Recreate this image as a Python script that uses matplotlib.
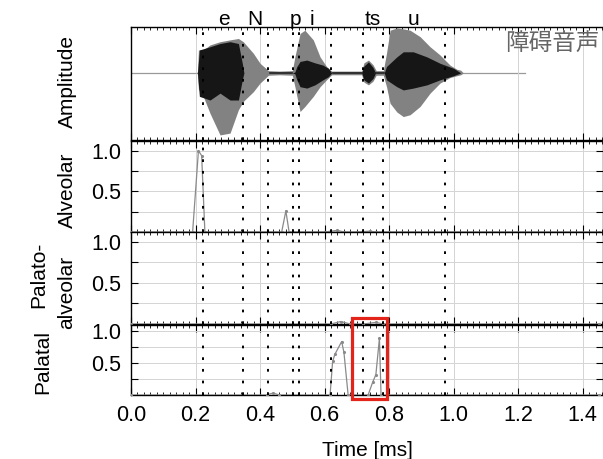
import numpy as np
import matplotlib
matplotlib.use("Agg")
import matplotlib.pyplot as plt
from matplotlib.ticker import MultipleLocator
from matplotlib.patches import Rectangle

plt.rcParams['font.family'] = ['Liberation Sans', 'Noto Sans CJK JP', 'DejaVu Sans']

# phoneme boundaries (dashed) and labels
boundaries = [0.224, 0.346, 0.426, 0.503, 0.521, 0.619, 0.720, 0.782, 0.973]
phonemes = ["e", "N", "p", "i", "ts", "u"]
phoneme_t = [0.287, 0.384, 0.511, 0.561, 0.750, 0.877]

# waveform envelope (outer grey part)
wave_t = [0.0, 0.200, 0.206, 0.209, 0.224, 0.245, 0.276, 0.307, 0.333, 0.348, 0.379,
          0.400, 0.426, 0.460, 0.500, 0.508, 0.524, 0.539, 0.565, 0.586, 0.606, 0.622,
          0.660, 0.715, 0.722, 0.736, 0.750, 0.760, 0.782, 0.792, 0.803, 0.824, 0.844,
          0.865, 0.896, 0.927, 0.958, 0.989, 1.010, 1.022, 1.030]
wave_hi = [0.0, 0.0, 0.02, 0.50, 0.50, 0.61, 0.68, 0.72, 0.75, 0.68, 0.43,
           0.21, 0.05, 0.04, 0.05, 0.35, 0.86, 0.93, 0.72, 0.35, 0.14, 0.04,
           0.04, 0.04, 0.22, 0.28, 0.18, 0.05, 0.05, 0.43, 0.93, 0.98, 0.96,
           0.93, 0.79, 0.57, 0.39, 0.17, 0.08, 0.06, 0.0]
wave_lo = [0.0, 0.0, -0.02, -0.35, -0.51, -0.88, -1.35, -1.31, -0.80, -0.62, -0.41,
           -0.22, -0.05, -0.04, -0.05, -0.30, -0.84, -0.73, -0.51, -0.30, -0.15, -0.04,
           -0.04, -0.04, -0.20, -0.26, -0.18, -0.05, -0.05, -0.30, -0.66, -0.85, -0.95,
           -0.91, -0.73, -0.44, -0.22, -0.10, -0.06, -0.04, 0.0]

# waveform envelope (inner dark part)
dark_t = [0.0, 0.206, 0.212, 0.245, 0.276, 0.307, 0.333, 0.345, 0.350, 0.500, 0.508,
          0.514, 0.524, 0.545, 0.570, 0.595, 0.612, 0.622, 0.715, 0.722, 0.736,
          0.750, 0.758, 0.785, 0.792, 0.824, 0.844, 0.875, 0.917, 0.958, 1.000, 1.022]
dark_hi = [0.0, 0.0, 0.50, 0.57, 0.64, 0.68, 0.64, 0.21, 0.0, 0.0, 0.02,
           0.14, 0.25, 0.28, 0.22, 0.17, 0.10, 0.0, 0.0, 0.15, 0.24,
           0.12, 0.0, 0.0, 0.14, 0.35, 0.46, 0.46, 0.35, 0.21, 0.10, 0.0]
dark_lo = [0.0, 0.0, -0.51, -0.59, -0.44, -0.59, -0.59, -0.15, 0.0, 0.0, -0.02,
           -0.15, -0.30, -0.33, -0.26, -0.15, -0.08, 0.0, 0.0, -0.15, -0.22,
           -0.12, 0.0, 0.0, -0.15, -0.30, -0.37, -0.33, -0.26, -0.15, -0.06, 0.0]

# classifier outputs
alv_t = [0.0, 0.191, 0.209, 0.219, 0.229, 0.467, 0.480, 0.490, 0.600, 0.640, 0.660, 0.700, 0.740, 0.760, 0.800, 1.45]
alv_v = [0.0, 0.0, 1.0, 0.94, 0.0, 0.0, 0.26, 0.0, 0.0, 0.02, 0.0, 0.0, 0.01, 0.0, 0.0, 0.0]
pal_alv_t = [0.0, 0.62, 0.65, 0.68, 0.72, 0.76, 0.78, 1.45]
pal_alv_v = [0.0, 0.0, 0.03, 0.0, 0.0, 0.02, 0.0, 0.0]
pal_t = [0.0, 0.420, 0.440, 0.460, 0.617, 0.625, 0.632, 0.653, 0.660, 0.673, 0.735, 0.749, 0.759, 0.770, 0.775, 1.45]
pal_v = [0.0, 0.0, 0.03, 0.0, 0.0, 0.53, 0.64, 0.84, 0.67, 0.0, 0.0, 0.20, 0.32, 0.89, 0.0, 0.0]

highlight = (0.685, 0.795)
xmax = 1.463

fig = plt.figure(figsize=(6.03, 4.59), dpi=100)
H = 459.0
W = 603.0


def panel(top_px, bot_px):
    return fig.add_axes([131 / W, 1 - bot_px / H, 1 - 131 / W, (bot_px - top_px) / H])


ax0 = panel(27, 140)
ax1 = panel(141, 232)
ax2 = panel(232, 324)
ax3 = panel(325, 395)
axes = [ax0, ax1, ax2, ax3]

for ax in axes:
    ax.set_xlim(0, xmax)
    ax.xaxis.set_major_locator(MultipleLocator(0.2))
    ax.xaxis.set_minor_locator(MultipleLocator(0.02))
    ax.tick_params(which='both', direction='in', top=True, right=True, labelsize=15.5)
    ax.tick_params(which='major', length=5, width=0.8)
    ax.tick_params(which='minor', length=2.5, width=0.6)
    ax.grid(True, which='major', axis='x', color='#d4d4d4', lw=0.7)
    for s in ax.spines.values():
        s.set_linewidth(1.0)
    for b in boundaries:
        ax.axvline(b, color='black', lw=1.4, ls=(0, (1.4, 4.6)), zorder=4)
    if ax is not ax3:
        ax.tick_params(labelbottom=False)

# amplitude panel
ax0.set_ylim(-1.46, 1.0)
ax0.set_yticks([])
ax0.plot([0, 1.22], [0, 0], color='#9a9a9a', lw=0.9, zorder=1)
ax0.fill_between(wave_t, wave_lo, wave_hi, color='#828282', lw=0, zorder=2)
ax0.fill_between(dark_t, dark_lo, dark_hi, color='#161616', lw=0, zorder=3)
ax0.plot([0.43, 0.50], [0, 0], color='#222222', lw=1.2, zorder=3)
ax0.plot([0.625, 0.715], [0, 0], color='#222222', lw=1.2, zorder=3)
ax0.plot([0.755, 0.785], [0, 0], color='#222222', lw=1.2, zorder=3)
for name, t in zip(phonemes, phoneme_t):
    ax0.text(t, 1.065, name, transform=ax0.get_xaxis_transform(), ha='center', va='center',
             fontsize=15)
fig.text(505 / W, 1 - 43 / H, "障碍音声", fontsize=17, color='#666666',
         family=['Noto Sans CJK JP', 'DejaVu Sans'], ha='left', va='center')

# classifier panels
for ax, t, v, top in [(ax1, alv_t, alv_v, 1.12), (ax2, pal_alv_t, pal_alv_v, 1.12), (ax3, pal_t, pal_v, 1.1)]:
    ax.set_ylim(0, top)
    ax.set_yticks([0.25, 0.5, 0.75, 1.0])
    ax.set_yticklabels(['', '0.5', '', '1.0'])
    ax.tick_params(axis='y', pad=7)
    ax.grid(True, which='major', axis='y', color='#d4d4d4', lw=0.7)
    ax.plot(t, v, color='#8a8a8a', lw=0.9, marker='.', ms=2.5, zorder=3)

ax3.set_xticks(np.arange(0, 1.41, 0.2))
ax3.set_xticklabels(['0.0', '0.2', '0.4', '0.6', '0.8', '1.0', '1.2', '1.4'])
ax3.tick_params(axis='x', pad=7)
ax3.set_xlabel("Time [ms]", fontsize=15, labelpad=11)

ax3.add_patch(Rectangle((highlight[0], -0.06), highlight[1] - highlight[0], 1.27,
                        fill=False, edgecolor='#e3241b', lw=2.3, clip_on=False, zorder=6))

# row labels
fig.text(67 / W, 1 - 81 / H, "Amplitude", rotation=90, ha='center', va='center', fontsize=15)
fig.text(67 / W, 1 - 190 / H, "Alveolar", rotation=90, ha='center', va='center', fontsize=15)
fig.text(39 / W, 1 - 275 / H, "Palato-", rotation=90, ha='center', va='center', fontsize=15)
fig.text(67 / W, 1 - 292 / H, "alveolar", rotation=90, ha='center', va='center', fontsize=15)
fig.text(43 / W, 1 - 362 / H, "Palatal", rotation=90, ha='center', va='center', fontsize=15)

fig.savefig("out.png", dpi=100)
